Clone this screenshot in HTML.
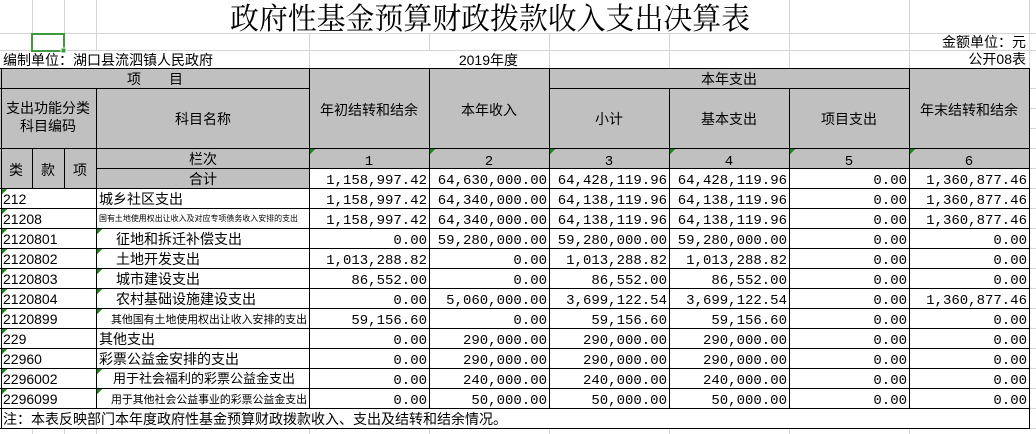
<!DOCTYPE html>
<html><head><meta charset="utf-8"><style>
html,body{margin:0;padding:0;background:#fff;width:1036px;height:434px;overflow:hidden}
svg{display:block}
.c{font-family:"Liberation Sans","Noto Sans CJK SC",sans-serif;font-size:14px;fill:#000}
.n{font-family:"Liberation Mono","Noto Sans CJK SC",monospace;font-size:14px;fill:#000;text-anchor:end}
.m{text-anchor:middle}
</style></head><body>
<svg width="1036" height="434" xmlns="http://www.w3.org/2000/svg" shape-rendering="crispEdges">
<!-- gray fills -->
<rect x="0" y="68" width="1029" height="100" fill="#c0c0c0"/>
<rect x="0" y="168" width="309" height="20" fill="#c0c0c0"/>
<!-- light grid -->
<g stroke="#d4d4d4" stroke-width="1">
<line x1="0" y1="33.5" x2="1036" y2="33.5"/>
<line x1="0" y1="50.5" x2="1036" y2="50.5"/>
<line x1="0" y1="428.5" x2="1036" y2="428.5"/>
<line x1="32.5" y1="0" x2="32.5" y2="51"/>
<line x1="64.5" y1="0" x2="64.5" y2="51"/>
<line x1="96.5" y1="0" x2="96.5" y2="51"/>
<line x1="309.5" y1="34" x2="309.5" y2="68"/>
<line x1="429.5" y1="34" x2="429.5" y2="51"/>
<line x1="549.5" y1="34" x2="549.5" y2="68"/>
<line x1="669.5" y1="34" x2="669.5" y2="68"/>
<line x1="789.5" y1="0" x2="789.5" y2="68"/>
<line x1="909.5" y1="0" x2="909.5" y2="68"/>
<line x1="1029.5" y1="0" x2="1029.5" y2="68"/>
<line x1="32.5" y1="428" x2="32.5" y2="434"/>
<line x1="64.5" y1="428" x2="64.5" y2="434"/>
<line x1="96.5" y1="428" x2="96.5" y2="434"/>
<line x1="309.5" y1="428" x2="309.5" y2="434"/>
<line x1="429.5" y1="428" x2="429.5" y2="434"/>
<line x1="549.5" y1="428" x2="549.5" y2="434"/>
<line x1="669.5" y1="428" x2="669.5" y2="434"/>
<line x1="789.5" y1="428" x2="789.5" y2="434"/>
<line x1="909.5" y1="428" x2="909.5" y2="434"/>
<line x1="1029" y1="88.5" x2="1036" y2="88.5"/>
<line x1="1029" y1="108.5" x2="1036" y2="108.5"/>
<line x1="1029" y1="128.5" x2="1036" y2="128.5"/>
<line x1="1029" y1="148.5" x2="1036" y2="148.5"/>
<line x1="1029" y1="168.5" x2="1036" y2="168.5"/>
<line x1="1029" y1="188.5" x2="1036" y2="188.5"/>
<line x1="1029" y1="208.5" x2="1036" y2="208.5"/>
<line x1="1029" y1="228.5" x2="1036" y2="228.5"/>
<line x1="1029" y1="248.5" x2="1036" y2="248.5"/>
<line x1="1029" y1="268.5" x2="1036" y2="268.5"/>
<line x1="1029" y1="288.5" x2="1036" y2="288.5"/>
<line x1="1029" y1="308.5" x2="1036" y2="308.5"/>
<line x1="1029" y1="328.5" x2="1036" y2="328.5"/>
<line x1="1029" y1="348.5" x2="1036" y2="348.5"/>
<line x1="1029" y1="368.5" x2="1036" y2="368.5"/>
<line x1="1029" y1="388.5" x2="1036" y2="388.5"/>
<line x1="1029" y1="408.5" x2="1036" y2="408.5"/>
</g>
<!-- black table lines -->
<g stroke="#000" stroke-width="1">
<line x1="0" y1="68.5" x2="1030" y2="68.5"/>
<line x1="0" y1="88.5" x2="309" y2="88.5"/>
<line x1="549" y1="88.5" x2="909" y2="88.5"/>
<line x1="0" y1="148.5" x2="1030" y2="148.5"/>
<line x1="96" y1="168.5" x2="1030" y2="168.5"/>
<line x1="0" y1="188.5" x2="1030" y2="188.5"/>
<line x1="0" y1="208.5" x2="1030" y2="208.5"/>
<line x1="0" y1="228.5" x2="1030" y2="228.5"/>
<line x1="0" y1="248.5" x2="1030" y2="248.5"/>
<line x1="0" y1="268.5" x2="1030" y2="268.5"/>
<line x1="0" y1="288.5" x2="1030" y2="288.5"/>
<line x1="0" y1="308.5" x2="1030" y2="308.5"/>
<line x1="0" y1="328.5" x2="1030" y2="328.5"/>
<line x1="0" y1="348.5" x2="1030" y2="348.5"/>
<line x1="0" y1="368.5" x2="1030" y2="368.5"/>
<line x1="0" y1="388.5" x2="1030" y2="388.5"/>
<line x1="0" y1="408.5" x2="1030" y2="408.5"/>
<line x1="0" y1="428.5" x2="1030" y2="428.5"/>
<line x1="1.5" y1="68" x2="1.5" y2="429"/>
<line x1="32.5" y1="148" x2="32.5" y2="188"/>
<line x1="64.5" y1="148" x2="64.5" y2="188"/>
<line x1="96.5" y1="88" x2="96.5" y2="408"/>
<line x1="309.5" y1="68" x2="309.5" y2="408"/>
<line x1="429.5" y1="68" x2="429.5" y2="408"/>
<line x1="549.5" y1="68" x2="549.5" y2="408"/>
<line x1="669.5" y1="88" x2="669.5" y2="408"/>
<line x1="789.5" y1="88" x2="789.5" y2="408"/>
<line x1="909.5" y1="68" x2="909.5" y2="408"/>
<line x1="1029.5" y1="68" x2="1029.5" y2="429"/>
</g>
<!-- selection -->
<rect x="32" y="34" width="32" height="17" fill="none" stroke="#3f9a3f" stroke-width="2"/>
<rect x="61" y="48" width="5" height="5" fill="#3f9a3f" stroke="#fff" stroke-width="1"/>
<!-- green triangles -->
<g fill="#1a8a1a">
<polygon points="310,149 315,149 310,154"/><polygon points="430,149 435,149 430,154"/>
<polygon points="550,149 555,149 550,154"/><polygon points="670,149 675,149 670,154"/>
<polygon points="790,149 795,149 790,154"/><polygon points="910,149 915,149 910,154"/>
<polygon points="2,189 7,189 2,194"/><polygon points="2,209 7,209 2,214"/>
<polygon points="2,229 7,229 2,234"/><polygon points="2,249 7,249 2,254"/>
<polygon points="2,269 7,269 2,274"/><polygon points="2,289 7,289 2,294"/>
<polygon points="2,309 7,309 2,314"/><polygon points="2,329 7,329 2,334"/>
<polygon points="2,349 7,349 2,354"/><polygon points="2,369 7,369 2,374"/>
<polygon points="2,389 7,389 2,394"/>
<polygon points="97,229 102,229 97,234"/><polygon points="97,249 102,249 97,254"/>
<polygon points="97,269 102,269 97,274"/><polygon points="97,289 102,289 97,294"/>
<polygon points="97,309 102,309 97,314"/><polygon points="97,369 102,369 97,374"/>
<polygon points="97,389 102,389 97,394"/>
</g>
<!-- title -->
<text x="490" y="29" text-anchor="middle" style="font-family:'Liberation Serif','Noto Serif CJK SC',serif;font-size:30px" textLength="520" lengthAdjust="spacingAndGlyphs">政府性基金预算财政拨款收入支出决算表</text>
<text class="c" x="1026" y="47" text-anchor="end">金额单位：元</text>
<text class="c" x="1026" y="64" text-anchor="end">公开08表</text>
<text class="c" x="3" y="65">编制单位：湖口县流泗镇人民政府</text>
<text class="c" x="518" y="65" text-anchor="end">2019年度</text>
<!-- header -->
<text class="c m" x="155" y="84">项　　目</text>
<text class="c m" x="48" y="113">支出功能分类</text>
<text class="c m" x="48" y="131">科目编码</text>
<text class="c m" x="203" y="124">科目名称</text>
<text class="c m" x="369" y="115">年初结转和结余</text>
<text class="c m" x="489" y="115">本年收入</text>
<text class="c m" x="729" y="84">本年支出</text>
<text class="c m" x="609" y="124">小计</text>
<text class="c m" x="729" y="124">基本支出</text>
<text class="c m" x="849" y="124">项目支出</text>
<text class="c m" x="969" y="115">年末结转和结余</text>
<text class="c m" x="16" y="175">类</text>
<text class="c m" x="48" y="175">款</text>
<text class="c m" x="80" y="175">项</text>
<text class="c m" x="203" y="164">栏次</text>
<text class="c m" x="203" y="184">合计</text>
<g class="n" style="text-anchor:middle">
<text x="369" y="165">1</text><text x="489" y="165">2</text><text x="609" y="165">3</text>
<text x="729" y="165">4</text><text x="849" y="165">5</text><text x="969" y="165">6</text>
</g>
<!-- codes & names -->
<g class="c">
<text x="3" y="204">212</text><text x="99" y="204">城乡社区支出</text>
<text x="3" y="224">21208</text>
<text x="99" y="221" style="font-size:8px" textLength="199" lengthAdjust="spacingAndGlyphs">国有土地使用权出让收入及对应专项债务收入安排的支出</text>
<text x="3" y="244">2120801</text><text x="116" y="244">征地和拆迁补偿支出</text>
<text x="3" y="264">2120802</text><text x="116" y="264">土地开发支出</text>
<text x="3" y="284">2120803</text><text x="116" y="284">城市建设支出</text>
<text x="3" y="304">2120804</text><text x="116" y="304">农村基础设施建设支出</text>
<text x="3" y="324">2120899</text>
<text x="111" y="323" style="font-size:11px" textLength="196" lengthAdjust="spacingAndGlyphs">其他国有土地使用权出让收入安排的支出</text>
<text x="3" y="344">229</text><text x="99" y="344">其他支出</text>
<text x="3" y="364">22960</text><text x="99" y="364">彩票公益金安排的支出</text>
<text x="3" y="384">2296002</text>
<text x="113" y="383" style="font-size:13px" textLength="182" lengthAdjust="spacingAndGlyphs">用于社会福利的彩票公益金支出</text>
<text x="3" y="404">2296099</text>
<text x="111" y="403" style="font-size:11px" textLength="196" lengthAdjust="spacingAndGlyphs">用于其他社会公益事业的彩票公益金支出</text>
<text x="3" y="424">注：本表反映部门本年度政府性基金预算财政拨款收入、支出及结转和结余情况。</text>
</g>
<!-- numbers -->
<g class="n">
<text x="427" y="184">1,158,997.42</text><text x="547" y="184">64,630,000.00</text><text x="667" y="184">64,428,119.96</text><text x="787" y="184">64,428,119.96</text><text x="907" y="184">0.00</text><text x="1027" y="184">1,360,877.46</text>
<text x="427" y="204">1,158,997.42</text><text x="547" y="204">64,340,000.00</text><text x="667" y="204">64,138,119.96</text><text x="787" y="204">64,138,119.96</text><text x="907" y="204">0.00</text><text x="1027" y="204">1,360,877.46</text>
<text x="427" y="224">1,158,997.42</text><text x="547" y="224">64,340,000.00</text><text x="667" y="224">64,138,119.96</text><text x="787" y="224">64,138,119.96</text><text x="907" y="224">0.00</text><text x="1027" y="224">1,360,877.46</text>
<text x="427" y="244">0.00</text><text x="547" y="244">59,280,000.00</text><text x="667" y="244">59,280,000.00</text><text x="787" y="244">59,280,000.00</text><text x="907" y="244">0.00</text><text x="1027" y="244">0.00</text>
<text x="427" y="264">1,013,288.82</text><text x="547" y="264">0.00</text><text x="667" y="264">1,013,288.82</text><text x="787" y="264">1,013,288.82</text><text x="907" y="264">0.00</text><text x="1027" y="264">0.00</text>
<text x="427" y="284">86,552.00</text><text x="547" y="284">0.00</text><text x="667" y="284">86,552.00</text><text x="787" y="284">86,552.00</text><text x="907" y="284">0.00</text><text x="1027" y="284">0.00</text>
<text x="427" y="304">0.00</text><text x="547" y="304">5,060,000.00</text><text x="667" y="304">3,699,122.54</text><text x="787" y="304">3,699,122.54</text><text x="907" y="304">0.00</text><text x="1027" y="304">1,360,877.46</text>
<text x="427" y="324">59,156.60</text><text x="547" y="324">0.00</text><text x="667" y="324">59,156.60</text><text x="787" y="324">59,156.60</text><text x="907" y="324">0.00</text><text x="1027" y="324">0.00</text>
<text x="427" y="344">0.00</text><text x="547" y="344">290,000.00</text><text x="667" y="344">290,000.00</text><text x="787" y="344">290,000.00</text><text x="907" y="344">0.00</text><text x="1027" y="344">0.00</text>
<text x="427" y="364">0.00</text><text x="547" y="364">290,000.00</text><text x="667" y="364">290,000.00</text><text x="787" y="364">290,000.00</text><text x="907" y="364">0.00</text><text x="1027" y="364">0.00</text>
<text x="427" y="384">0.00</text><text x="547" y="384">240,000.00</text><text x="667" y="384">240,000.00</text><text x="787" y="384">240,000.00</text><text x="907" y="384">0.00</text><text x="1027" y="384">0.00</text>
<text x="427" y="404">0.00</text><text x="547" y="404">50,000.00</text><text x="667" y="404">50,000.00</text><text x="787" y="404">50,000.00</text><text x="907" y="404">0.00</text><text x="1027" y="404">0.00</text>
</g>
</svg>
</body></html>
